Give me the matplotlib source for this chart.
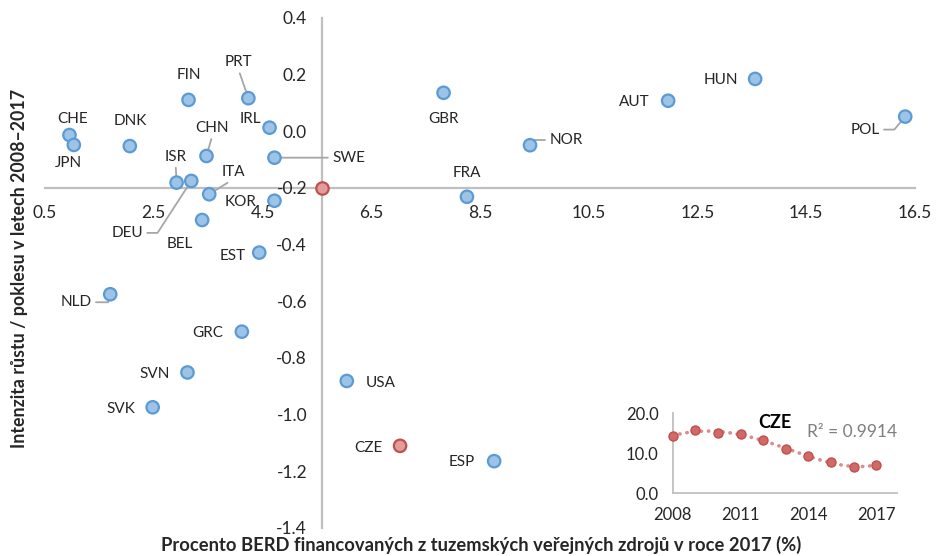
import numpy as np
import matplotlib.pyplot as plt

plt.rcParams['font.family'] = ['Lato', 'DejaVu Sans']
plt.rcParams['axes.unicode_minus'] = False

# share of BERD funded from domestic public sources in 2017 (%) vs. growth 2008-2017
countries = ['CHE', 'JPN', 'DNK', 'FIN', 'PRT', 'IRL', 'CHN', 'SWE', 'ISR', 'DEU',
             'ITA', 'KOR', 'BEL', 'EST', 'GBR', 'NOR', 'FRA', 'AUT', 'HUN', 'POL',
             'NLD', 'GRC', 'SVN', 'SVK', 'USA', 'CZE', 'ESP']
berd_public = [0.95, 1.03, 2.06, 3.14, 4.24, 4.63, 3.47, 4.72, 2.92, 3.19,
               3.52, 4.72, 3.39, 4.44, 7.83, 9.42, 8.26, 11.96, 13.56, 16.32,
               1.70, 4.12, 3.12, 2.48, 6.05, 7.03, 8.76]
growth = [-0.013, -0.048, -0.052, 0.111, 0.117, 0.013, -0.087, -0.093, -0.181, -0.175,
          -0.222, -0.245, -0.313, -0.428, 0.136, -0.049, -0.231, 0.108, 0.185, 0.052,
          -0.575, -0.707, -0.851, -0.974, -0.881, -1.110, -1.164]
highlight = ['CZE']
avg_x, avg_y = 5.6, -0.2

# CZE time series for the inset
years = [2008, 2009, 2010, 2011, 2012, 2013, 2014, 2015, 2016, 2017]
cze_share = [14.3, 15.8, 15.0, 14.8, 13.25, 11.1, 9.3, 7.8, 6.5, 7.2]
r2_text = 'R² = 0.9914'

xticks = [0.5, 2.5, 4.5, 6.5, 8.5, 10.5, 12.5, 14.5, 16.5]
yticks = [0.4, 0.2, 0.0, -0.2, -0.4, -0.6, -0.8, -1.0, -1.2, -1.4]

# label offsets from the marker, in pixels
label_off = {
    'CHE': (3, 16), 'JPN': (-5, -18), 'DNK': (0, 25), 'FIN': (0, 25),
    'PRT': (-10, 36), 'IRL': (-19, 9), 'CHN': (6, 28), 'SWE': (74, 0),
    'ISR': (-1, 26), 'DEU': (-64, -52), 'ITA': (24, 22), 'KOR': (-34, -1),
    'BEL': (-22, -24), 'EST': (-27, -3), 'GBR': (0, -26), 'NOR': (36, 5),
    'FRA': (0, 24), 'AUT': (-34, -1), 'HUN': (-34, -1), 'POL': (-40, -13),
    'NLD': (-34, -8), 'GRC': (-34, -1), 'SVN': (-33, -2), 'SVK': (-32, -2),
    'USA': (34, -2), 'CZE': (-32, -2), 'ESP': (-32, -1),
}
# leader lines: (relpos on the label, connection style)
leaders = {
    'PRT': ((0.5, 0), 'arc3'),
    'CHN': ((0.5, 0), 'arc3'),
    'ISR': ((0.5, 0), 'arc3'),
    'ITA': ((0.5, 0), 'arc3'),
    'SWE': ((0, 0.5), 'arc3'),
    'DEU': ((1, 0.5), 'angle,angleA=0,angleB=57,rad=0'),
    'NOR': ((0, 0.5), 'angle,angleA=0,angleB=90,rad=0'),
    'POL': ((1, 0.5), 'angle,angleA=0,angleB=50,rad=0'),
    'NLD': ((1, 0.5), 'angle,angleA=0,angleB=75,rad=0'),
}

blue_fill, blue_edge = '#9DC3E6', '#5B9BD5'
red_fill, red_edge = '#E39C9C', '#C0504D'
grid_gray = '#BFBFBF'
text_col = '#262626'

fig = plt.figure(figsize=(9.36, 5.56), dpi=100)
ax = fig.add_axes([45 / 936, 1 - 528 / 556, 870 / 936, 510 / 556])

ax.set_xlim(0.5, 16.5)
ax.set_ylim(-1.4, 0.4)
for s in ['top', 'right']:
    ax.spines[s].set_visible(False)
ax.spines['left'].set_position(('data', avg_x))
ax.spines['bottom'].set_position(('data', avg_y))
for s in ['left', 'bottom']:
    ax.spines[s].set_color(grid_gray)
    ax.spines[s].set_linewidth(1.6)
    ax.spines[s].set_zorder(1)
ax.set_xticks(xticks)
ax.set_yticks(yticks)
ax.set_xticklabels([f'{v:.1f}' for v in xticks])
ax.set_yticklabels([f'{v:.1f}' for v in yticks])
ax.tick_params(axis='both', length=0, labelsize=12.5, colors=text_col)
ax.tick_params(axis='x', pad=12)
ax.tick_params(axis='y', pad=11)

cols = [(red_fill, red_edge) if c in highlight else (blue_fill, blue_edge) for c in countries]
ax.scatter(berd_public, growth, s=80, c=[f for f, e in cols], edgecolors=[e for f, e in cols],
           linewidths=1.6, zorder=4, clip_on=False)
ax.scatter([avg_x], [avg_y], s=80, c=red_fill, edgecolors=red_edge, linewidths=1.6, zorder=4)

for c, x, y in zip(countries, berd_public, growth):
    kw = {}
    if c in leaders:
        relpos, conn = leaders[c]
        kw['arrowprops'] = dict(arrowstyle='-', color='#A6A6A6', lw=1.3, shrinkA=1, shrinkB=2,
                                relpos=relpos, connectionstyle=conn)
    ax.annotate(c, (x, y), xytext=label_off[c], textcoords='offset pixels',
                ha='center', va='center', fontsize=11, color=text_col, zorder=3, **kw)

fig.text(481 / 936, 1 - 545 / 556, 'Procento BERD financovaných z tuzemských veřejných zdrojů v roce 2017 (%)',
         ha='center', va='center', fontsize=13.2, fontweight='bold', color=text_col)
fig.text(20 / 936, 1 - 268 / 556, 'Intenzita růstu / poklesu v letech 2008–2017',
         ha='center', va='center', rotation=90, fontsize=12.8, fontweight='bold', color=text_col)

# inset: CZE over time with polynomial trend
ins = fig.add_axes([672.7 / 936, 1 - 493.3 / 556, 224 / 936, 80 / 556])
ins.set_xlim(2008, 2017.9)
ins.set_ylim(0, 20)
for s in ['top', 'right']:
    ins.spines[s].set_visible(False)
for s in ['left', 'bottom']:
    ins.spines[s].set_color(grid_gray)
    ins.spines[s].set_linewidth(1.3)
ins.patch.set_alpha(0)
ins.set_xticks([2008, 2011, 2014, 2017])
ins.set_yticks([0, 10, 20])
ins.set_yticklabels([f'{v:.1f}' for v in [0, 10, 20]])
ins.tick_params(axis='both', length=0, labelsize=12, colors=text_col)
ins.tick_params(axis='x', pad=10)
ins.tick_params(axis='y', pad=10)

yr = np.array(years) - years[0]
coef = np.polyfit(yr, cze_share, 4)
tt = np.linspace(0, yr[-1], 200)
ins.plot(tt + years[0], np.polyval(coef, tt), color='#DC8C8C', lw=2.6,
         linestyle=(0, (0.1, 1.9)), dash_capstyle='round', zorder=2)
ins.plot(years, cze_share, 'o', ms=6.5, mfc='#D06A67', mec=red_edge, mew=1.0, zorder=3, clip_on=False)
fig.text(775 / 936, 1 - 423 / 556, 'CZE', ha='center', va='center', fontsize=13,
         fontweight='bold', color='black')
fig.text(852 / 936, 1 - 432 / 556, r2_text, ha='center', va='center', fontsize=12.5, color='#7F7F7F')

fig.savefig('out.png', dpi=100)
